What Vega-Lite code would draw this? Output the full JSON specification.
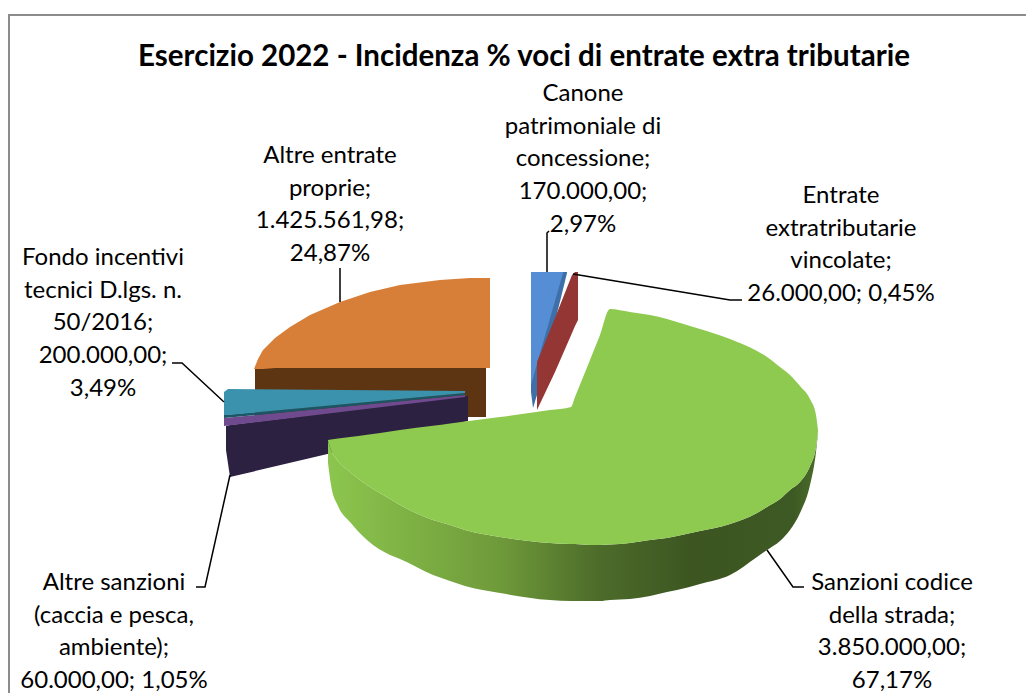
{"$schema":"https://vega.github.io/schema/vega-lite/v6.json","width":1026,"height":693,"padding":0,"autosize":{"type":"none"},"background":"white","config":{"view":{"stroke":null}},
"datasets":{
"voci":[
{"voce":"Canone patrimoniale di concessione","importo":170000,"quota":2.97,"etichetta":"Canone\npatrimoniale di\nconcessione;\n170.000,00;\n2,97%","lx":583,"ly":101},
{"voce":"Entrate extratributarie vincolate","importo":26000,"quota":0.45,"etichetta":"Entrate\nextratributarie\nvincolate;\n26.000,00; 0,45%","lx":841,"ly":203},
{"voce":"Sanzioni codice della strada","importo":3850000,"quota":67.17,"etichetta":"Sanzioni codice\ndella strada;\n3.850.000,00;\n67,17%","lx":892,"ly":590},
{"voce":"Altre sanzioni (caccia e pesca, ambiente)","importo":60000,"quota":1.05,"etichetta":"Altre sanzioni\n(caccia e pesca,\nambiente);\n60.000,00; 1,05%","lx":114,"ly":590},
{"voce":"Fondo incentivi tecnici D.lgs. n. 50/2016","importo":200000,"quota":3.49,"etichetta":"Fondo incentivi\ntecnici D.lgs. n.\n50/2016;\n200.000,00;\n3,49%","lx":103,"ly":265},
{"voce":"Altre entrate proprie","importo":1425561.98,"quota":24.87,"etichetta":"Altre entrate\nproprie;\n1.425.561,98;\n24,87%","lx":330,"ly":163}
],
"cornice":[{"x":9,"y":693},{"x":9,"y":15},{"x":1026,"y":15}],
"guide":[
{"g":"a","n":1,"x":340,"y":268},{"g":"a","n":2,"x":340,"y":302},
{"g":"b","n":1,"x":549,"y":231},{"g":"b","n":2,"x":547,"y":233},{"g":"b","n":3,"x":547,"y":272},
{"g":"c","n":1,"x":573,"y":274},{"g":"c","n":2,"x":730,"y":300},{"g":"c","n":3,"x":742,"y":300},
{"g":"d","n":1,"x":172,"y":363},{"g":"d","n":2,"x":182,"y":363},{"g":"d","n":3,"x":224,"y":402},
{"g":"e","n":1,"x":230,"y":475},{"g":"e","n":2,"x":205,"y":587},{"g":"e","n":3,"x":196,"y":587},
{"g":"f","n":1,"x":767,"y":550},{"g":"f","n":2,"x":793,"y":587},{"g":"f","n":3,"x":804,"y":587}
],
"sagome":[
{"parte":"blu fianco","x":531,"y":272,"y2":392},{"parte":"blu fianco","x":533,"y":272,"y2":408},{"parte":"blu fianco","x":537,"y":272,"y2":395},{"parte":"blu fianco","x":567,"y":272,"y2":273},
{"parte":"blu","x":531,"y":272,"y2":385},{"parte":"blu","x":563,"y":272,"y2":273},
{"parte":"rosso","x":537,"y":362,"y2":410},{"parte":"rosso","x":555,"y":318,"y2":372},{"parte":"rosso","x":572,"y":275,"y2":333},{"parte":"rosso","x":575,"y":272,"y2":326},{"parte":"rosso","x":578,"y":272,"y2":320},
{"parte":"arancio fianco","x":255,"y":368,"y2":417},{"parte":"arancio fianco","x":486,"y":368,"y2":417},
{"parte":"arancio","x":254,"y":369,"y2":369},{"parte":"arancio","x":258,"y":359,"y2":369},{"parte":"arancio","x":263,"y":350,"y2":369},{"parte":"arancio","x":275,"y":338,"y2":368},{"parte":"arancio","x":290,"y":327,"y2":368},{"parte":"arancio","x":310,"y":315,"y2":368},{"parte":"arancio","x":340,"y":302,"y2":368},{"parte":"arancio","x":370,"y":292,"y2":368},{"parte":"arancio","x":400,"y":285,"y2":368},{"parte":"arancio","x":440,"y":280,"y2":368},{"parte":"arancio","x":470,"y":278,"y2":368},{"parte":"arancio","x":490,"y":278,"y2":368},
{"parte":"viola scuro","x":226,"y":426,"y2":450},{"parte":"viola scuro","x":230,"y":425,"y2":477},{"parte":"viola scuro","x":468,"y":396,"y2":421},
{"parte":"viola","x":224,"y":418,"y2":426},{"parte":"viola","x":465,"y":395,"y2":397},
{"parte":"ottanio fianco","x":224,"y":415,"y2":418},{"parte":"ottanio fianco","x":465,"y":393,"y2":395},
{"parte":"ottanio","x":224,"y":392,"y2":415},{"parte":"ottanio","x":228,"y":389,"y2":415},{"parte":"ottanio","x":465,"y":391,"y2":393}
],
"verde":[
{"x":328,"y":440,"y2":441,"y3":463},{"x":331,"y":439.6,"y2":450,"y3":485},{"x":338,"y":438.6,"y2":461,"y3":506},{"x":350,"y":437,"y2":472,"y3":522},{"x":367,"y":434.7,"y2":485,"y3":540},{"x":390,"y":431.5,"y2":499,"y3":555},{"x":400,"y":430,"y2":505,"y3":559},{"x":433,"y":425.8,"y2":520,"y3":575},{"x":450,"y":423.5,"y2":525,"y3":581},{"x":465,"y":421.5,"y2":530,"y3":586},{"x":500,"y":417,"y2":537,"y3":593},{"x":550,"y":410,"y2":543,"y3":600},{"x":571,"y":407,"y2":544,"y3":601},{"x":575,"y":397,"y2":544,"y3":601},{"x":590,"y":360,"y2":545,"y3":601},{"x":600,"y":335,"y2":545,"y3":601},{"x":610,"y":309,"y2":544.5,"y3":600},{"x":630,"y":312,"y2":543,"y3":599},{"x":650,"y":315,"y2":540,"y3":596},{"x":667,"y":319,"y2":538,"y3":592},{"x":677,"y":322,"y2":536,"y3":590},{"x":700,"y":329,"y2":531,"y3":584},{"x":730,"y":339,"y2":524,"y3":575},{"x":757,"y":351,"y2":513,"y3":557},{"x":767,"y":357,"y2":507,"y3":550},{"x":780,"y":367,"y2":499,"y3":541},{"x":790,"y":375,"y2":490,"y3":530},{"x":800,"y":386,"y2":482,"y3":513},{"x":810,"y":399,"y2":466,"y3":485},{"x":816,"y":415,"y2":447,"y3":452},{"x":818,"y":430,"y2":431,"y3":433}
]},
"title":{"text":"Esercizio 2022 - Incidenza % voci di entrate extra tributarie","anchor":"start","frame":"group","dx":524,"dy":0,"align":"center","baseline":"alphabetic","offset":-95,"font":"Lato","fontSize":29.5,"fontWeight":"bold","color":"#000000"},
"layer":[
{"data":{"name":"cornice"},"mark":{"type":"line","stroke":"#8c8c8c","strokeWidth":2},"encoding":{"x":{"field":"x","type":"quantitative","scale":{"domain":[0,1026],"nice":false,"zero":false},"axis":null},"y":{"field":"y","type":"quantitative","scale":{"domain":[693,0],"nice":false,"zero":false},"axis":null},"order":{"field":"y","sort":"descending"}}},
{"data":{"name":"sagome"},"mark":{"type":"area","interpolate":"linear"},"encoding":{"x":{"field":"x","type":"quantitative"},"y":{"field":"y","type":"quantitative","stack":null},"y2":{"field":"y2"},"color":{"field":"parte","type":"nominal","legend":null,"scale":{"domain":["blu fianco","blu","rosso","arancio fianco","arancio","viola scuro","viola","ottanio fianco","ottanio"],"range":["#3f6fa8","#558ed5","#943634","#5e3513","#d77f38","#2d2142","#6f4a8e","#1b5566","#3a92ad"]}}}},
{"data":{"name":"verde"},"mark":{"type":"area","interpolate":"monotone","color":{"x1":0,"y1":0,"x2":1,"y2":0,"gradient":"linear","stops":[{"offset":0,"color":"#8cc64e"},{"offset":0.35,"color":"#6f9a3a"},{"offset":0.55,"color":"#4d6c2a"},{"offset":0.75,"color":"#3c5521"},{"offset":0.95,"color":"#3e5a24"},{"offset":1,"color":"#4c6d2a"}]}},"encoding":{"x":{"field":"x","type":"quantitative"},"y":{"field":"y2","type":"quantitative","stack":null},"y2":{"field":"y3"}}},
{"data":{"name":"verde"},"mark":{"type":"area","interpolate":"monotone","color":"#8fca50"},"encoding":{"x":{"field":"x","type":"quantitative"},"y":{"field":"y","type":"quantitative","stack":null},"y2":{"field":"y2"}}},
{"data":{"name":"guide"},"mark":{"type":"line","stroke":"#000000","strokeWidth":1.5},"encoding":{"x":{"field":"x","type":"quantitative"},"y":{"field":"y","type":"quantitative"},"detail":{"field":"g"},"order":{"field":"n"}}},
{"data":{"name":"voci"},"mark":{"type":"text","font":"Lato","fontSize":24,"lineBreak":"\n","lineHeight":32.7,"align":"center","baseline":"alphabetic","color":"#000000"},"encoding":{"x":{"field":"lx","type":"quantitative"},"y":{"field":"ly","type":"quantitative"},"text":{"field":"etichetta"}}}
]}
